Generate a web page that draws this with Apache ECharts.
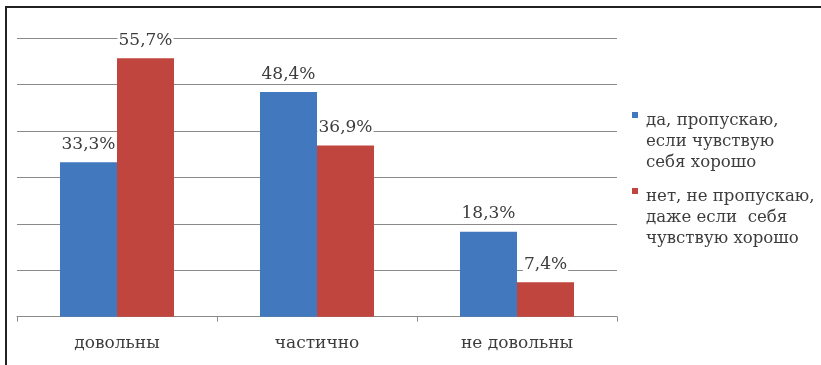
<!DOCTYPE html>
<html>
<head>
<meta charset="utf-8">
<script src="https://cdn.jsdelivr.net/npm/echarts@6/dist/echarts.min.js"></script>
<style>html,body{margin:0;padding:0;background:#fff}#c{width:821px;height:365px}</style>
</head>
<body>
<div id="c"></div>
<script>
var categories = ['довольны', 'частично', 'не довольны'];
var seriesNames = ['да, пропускаю,\nесли чувствую\nсебя хорошо', 'нет, не пропускаю,\nдаже если  себя\nчувствую хорошо'];
var valuesYes = [33.3, 48.4, 18.3];
var valuesNo = [55.7, 36.9, 7.4];

var FONT = "'DejaVu Serif', serif";
var TXT = '#3c3c3c';
var iconPath = 'path://M0,2h6v6h-6z M0,0L0.001,0 M0,63L0.001,63';

function fmt(p) { return p.value.toFixed(1).replace('.', ',') + '%'; }
function lbl() {
  return { show: true, position: 'top', distance: 8, formatter: fmt,
    fontFamily: FONT, fontSize: 17, lineHeight: 20, color: TXT,
    backgroundColor: '#fff', padding: [0, 1] };
}

var chart = echarts.init(document.getElementById('c'), null, { renderer: 'canvas' });
chart.setOption({
  animation: false,
  backgroundColor: '#fff',
  grid: { left: 17, right: 204, top: 38.3, bottom: 48.3, containLabel: false },
  legend: {
    orient: 'vertical', left: 632, top: 110, padding: 0, itemGap: 13,
    itemWidth: 6, itemHeight: 63, icon: iconPath,
    textStyle: { fontFamily: FONT, fontSize: 16.6, lineHeight: 21, color: TXT, padding: [0, 0, 0, 3] },
    data: seriesNames
  },
  xAxis: {
    type: 'category', data: categories,
    axisLine: { lineStyle: { color: '#8a8a8a', width: 1 } },
    axisTick: { show: true, length: 5, lineStyle: { color: '#8a8a8a' } },
    axisLabel: { fontFamily: FONT, fontSize: 17, color: TXT, margin: 18 }
  },
  yAxis: {
    type: 'value', min: 0, max: 60, interval: 10,
    axisLine: { show: false }, axisTick: { show: false }, axisLabel: { show: false },
    splitLine: { lineStyle: { color: '#8a8a8a', width: 1 } }
  },
  series: [
    { name: seriesNames[0], type: 'bar', data: valuesYes, barWidth: 57, barGap: '0%',
      itemStyle: { color: '#4178be' }, label: lbl() },
    { name: seriesNames[1], type: 'bar', data: valuesNo, barWidth: 57, barGap: '0%',
      itemStyle: { color: '#c0453f' }, label: lbl() }
  ],
  graphic: [
    { type: 'line', shape: { x1: 6, y1: 7, x2: 821, y2: 7 }, style: { stroke: '#222', lineWidth: 2 } },
    { type: 'line', shape: { x1: 6, y1: 6, x2: 6, y2: 365 }, style: { stroke: '#222', lineWidth: 2 } }
  ]
});
</script>
</body>
</html>
